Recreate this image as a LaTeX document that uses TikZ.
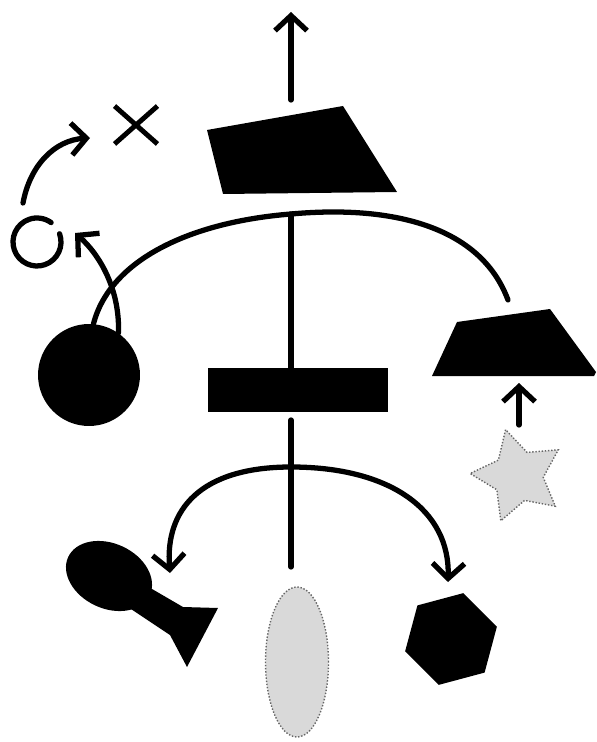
\documentclass[tikz,border=0pt]{standalone}
\usetikzlibrary{arrows.meta,shapes.geometric,shapes.misc}
\begin{document}
\begin{tikzpicture}[x=0.02cm,y=-0.02cm,>={Straight Barb[length=3mm,width=6.4mm]},
 wire/.style={line width=3pt,line cap=round},
 blk/.style={fill=black,inner sep=0pt},
 speck/.style={fill=gray!30,draw=black!60,densely dotted,line width=0.8pt,inner sep=0pt}]
\useasboundingbox (0,0) rectangle (596,742);
% hanging pieces
\fill (207,130) -- (343,106) -- (397,192) -- (223,194) -- cycle;
\fill (432,376) -- (457,322) -- (550,309) -- (596,372) -- (594,376) -- cycle;
\node[blk,circle,minimum size=2.04cm] (ball) at (89,375) {};
\node[blk,minimum width=3.6cm,minimum height=0.88cm] (bar) at (298,390) {};
\node[speck,ellipse,minimum width=1.26cm,minimum height=3cm] (egg) at (297,662) {};
\node[blk,regular polygon,regular polygon sides=6,minimum size=1.9cm,rotate=15] (hex) at (451,639) {};
\node[speck,star,star points=5,star point ratio=1.9,minimum size=1.92cm,shape border rotate=15] (star) at (518,476) {};
\node[blk,ellipse,minimum width=1.8cm,minimum height=1.3cm,rotate=-25] (spoon) at (109,576) {};
\fill (140,582) -- (183,607) -- (218,608) -- (187,667) -- (170,635) -- (125,605) -- cycle;
\node[draw,cross out,line width=2.8pt,minimum width=0.76cm,minimum height=0.66cm,inner sep=0pt] (xmark) at (136,125) {};
\draw[wire] (37,242) ++(-20:24) arc[start angle=-20,end angle=306,radius=24];
% hooks and pivots
\coordinate (top) at (291,12);
\coordinate (hook) at (291,100);
\coordinate (p1) at (291,214);
\coordinate (p2) at (291,467);
\coordinate (low) at (291,420);
\coordinate (tail) at (291,567);
\coordinate (trap) at (508,300);
\coordinate (ringin) at (75,233);
\coordinate (ringout) at (23,203);
\coordinate (xin) at (90,138);
\coordinate (spin) at (170,573);
\coordinate (hexin) at (448,582);
\coordinate (starout) at (519,425);
\coordinate (trapin) at (519,383);
% strings
\draw[wire,->] (hook) -- (top);
\draw[wire] (p1) -- (p1 |- bar.north);
\draw[wire] (low) -- (tail);
\draw[wire] (ball.85) .. controls (110,260) and (190,222) .. (p1) .. controls (390,205) and (480,225) .. (trap);
\draw[wire,->] (ball.55) .. controls (120,290) and (100,255) .. (ringin);
\draw[wire,->] (ringout) .. controls (30,165) and (55,140) .. (xin);
\draw[wire,->] (p2) .. controls (200,467) and (165,510) .. (spin);
\draw[wire,->] (p2) .. controls (390,467) and (450,510) .. (hexin);
\draw[wire,->] (starout) -- (trapin);
\end{tikzpicture}
\end{document}
